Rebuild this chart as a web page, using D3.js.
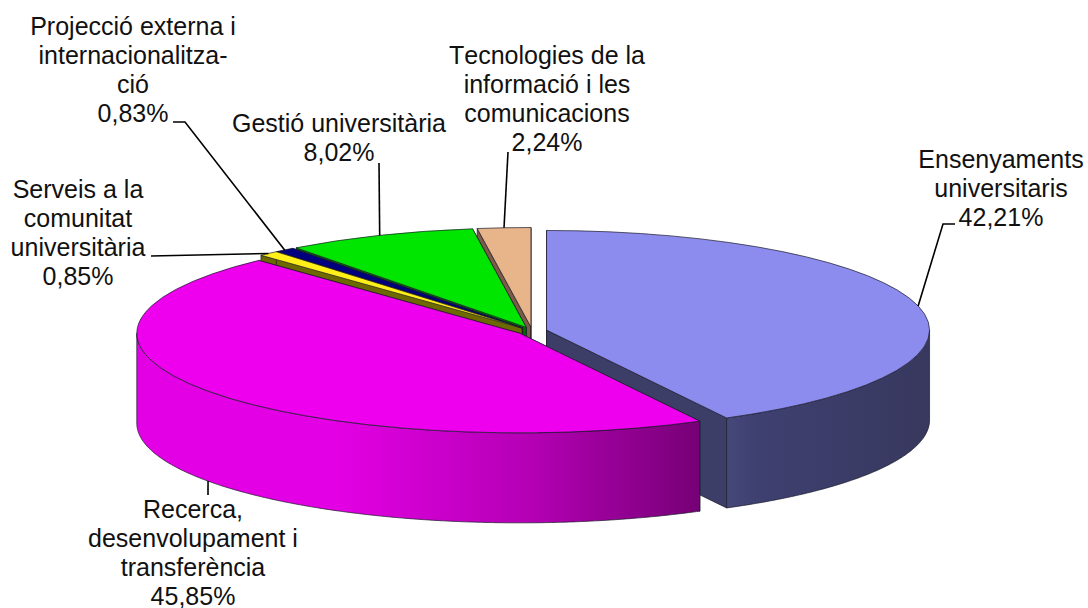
<!DOCTYPE html>
<html>
<head>
<meta charset="utf-8">
<title>Pressupost per àmbits</title>
<script src="https://d3js.org/d3.v7.min.js"></script>
<style>
  html, body { margin: 0; padding: 0; background: #fff; }
  svg { display: block; }
  text { font-family: "Liberation Sans", Arial, sans-serif; font-size: 25px; fill: #111; text-anchor: middle; font-kerning: none; }
</style>
</head>
<body>
<div id="chart"></div>
<script>
// data, clockwise from 12 o'clock
var categories = [
  ["Ensenyaments", "universitaris"],
  ["Recerca,", "desenvolupament i", "transferència"],
  ["Serveis a la", "comunitat", "universitària"],
  ["Projecció externa i", "internacionalitza-", "ció"],
  ["Gestió universitària"],
  ["Tecnologies de la", "informació i les", "comunicacions"]
];
var values = [42.21, 45.85, 0.85, 0.83, 8.02, 2.24];
var valueLabels = ["42,21%", "45,85%", "0,85%", "0,83%", "8,02%", "2,24%"];

// styles per slice
var topColors  = ["#8c8cee", "#ee00ee", "#fff01a", "#00007f", "#00e600", "#e8b48a"];
var wallColors = ["#3c3e68", "#a000a0", "#6e6800", "#00003f", "#006e00", "#7c5c48"];
var wallGrads  = [
  [["0%", "#46487a"], ["15%", "#3e4070"], ["100%", "#38385e"]],
  [["0%", "#e400e4"], ["35%", "#e400e4"], ["70%", "#b400b4"], ["100%", "#760076"]]
];

// label layout: text centre, first line centre, and leader elbow points
var labelLayout = [
  {x: 1001, y: 160, leader: [[943, 224], [955, 224]], bottom: false},
  {x: 193,  y: 510, leader: [[208, 495]], bottom: true},
  {x: 78,   y: 190, leader: [[151, 256]], bottom: false},
  {x: 133,  y: 27,  leader: [[185, 122], [173, 122]], bottom: false},
  {x: 339,  y: 124, leader: [[379, 163]], bottom: false},
  {x: 547,  y: 56,  leader: [[508, 152]], bottom: false}
];

var width = 1088, height = 608;
var cx = 532, cy = 331;      // pie centre
var rx = 383, tilt = 0.26;   // ellipse
var depth = 90, explode = 15;
var lineH = 29;

var svg = d3.select("#chart").append("svg")
  .attr("width", width)
  .attr("height", height);
var defs = svg.append("defs");

var pie = d3.pie().sort(null)(values);
var arc = d3.arc().innerRadius(0).outerRadius(rx);

pie.forEach(function(d) {
  var mid = (d.startAngle + d.endAngle) / 2;
  d.cx = cx + explode * Math.sin(mid);
  d.cy = cy - explode * tilt * Math.cos(mid);
  d.mid = mid;
});

function rim(d, a, drop) {
  return [d.cx + rx * Math.sin(a), d.cy - rx * tilt * Math.cos(a) + (drop || 0)];
}

// gradients on the two big outer walls
wallGrads.forEach(function(stops, i) {
  var d = pie[i];
  var a0 = Math.max(d.startAngle, Math.PI / 2), a1 = Math.min(d.endAngle, Math.PI * 1.5);
  var g = defs.append("linearGradient")
    .attr("id", "wall" + i)
    .attr("gradientUnits", "userSpaceOnUse")
    .attr("x1", Math.min(rim(d, a0)[0], rim(d, a1)[0])).attr("x2", Math.max(rim(d, a0)[0], rim(d, a1)[0]))
    .attr("y1", 0).attr("y2", 0);
  stops.forEach(function(s) {
    g.append("stop").attr("offset", s[0]).attr("stop-color", s[1]);
  });
});

var outerWall = d3.area()
  .x(function(p) { return p.x; })
  .y0(function(p) { return p.y; })
  .y1(function(p) { return p.y + depth; });

// back to front: small slices at the back first, recerca last
var order = [5, 4, 3, 2, 0, 1];
var edge = "#1a1a2a";

order.forEach(function(i) {
  var d = pie[i];
  var g = svg.append("g");

  // radial cut faces
  [d.startAngle, d.endAngle].forEach(function(a) {
    var p = rim(d, a);
    g.append("path")
      .attr("d", d3.line()([[d.cx, d.cy], p, [p[0], p[1] + depth], [d.cx, d.cy + depth]]) + "Z")
      .attr("fill", wallColors[i])
      .attr("stroke", edge)
      .attr("stroke-width", 0.7);
  });

  // curved outer face, only the front half shows
  var a0 = Math.max(d.startAngle, Math.PI / 2), a1 = Math.min(d.endAngle, Math.PI * 1.5);
  if (a1 > a0) {
    var pts = d3.range(a0, a1, 0.01).concat([a1]).map(function(a) {
      var p = rim(d, a);
      return {x: p[0], y: p[1]};
    });
    g.append("path")
      .attr("d", outerWall(pts))
      .attr("fill", i < 2 ? "url(#wall" + i + ")" : wallColors[i])
      .attr("stroke", edge)
      .attr("stroke-width", 0.7);
  }

  // top face
  g.append("path")
    .attr("d", arc(d))
    .attr("transform", "translate(" + d.cx + "," + d.cy + ") scale(1," + tilt + ")")
    .attr("fill", topColors[i])
    .attr("stroke", edge)
    .attr("stroke-width", 0.7)
    .attr("vector-effect", "non-scaling-stroke");
});

// leader lines start on the rim at each slice's middle angle
pie.forEach(function(d, i) {
  var l = labelLayout[i];
  var start = rim(d, d.mid, l.bottom ? depth : 0);
  svg.append("path")
    .attr("d", d3.line()([start].concat(l.leader)))
    .attr("fill", "none")
    .attr("stroke", "#000")
    .attr("stroke-width", 1.6);
});

// labels
categories.forEach(function(lines, i) {
  var l = labelLayout[i];
  var t = svg.append("text").attr("x", l.x).attr("y", l.y + 8);
  lines.concat([valueLabels[i]]).forEach(function(s, j) {
    t.append("tspan")
      .attr("x", l.x)
      .attr("dy", j == 0 ? 0 : lineH)
      .text(s);
  });
});
</script>
</body>
</html>
